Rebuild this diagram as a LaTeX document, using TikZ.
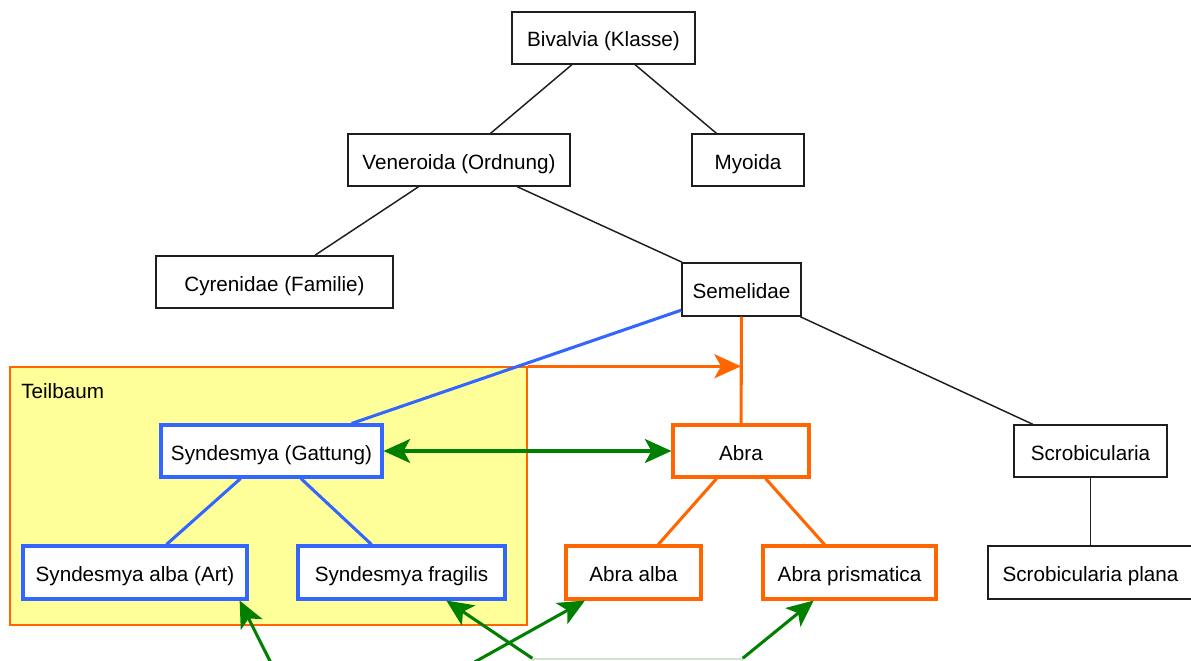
\documentclass[tikz,border=0pt]{standalone}
\usepackage{fontspec}
\setmainfont{Liberation Sans}
\usetikzlibrary{arrows.meta}
\definecolor{cblue}{RGB}{51,102,255}
\definecolor{corange}{RGB}{255,102,0}
\definecolor{cgreen}{RGB}{0,128,0}
\definecolor{cyellow}{RGB}{255,255,153}
\definecolor{cpale}{RGB}{205,228,205}
\definecolor{cline}{RGB}{30,30,30}
\begin{document}
\begin{tikzpicture}[x=0.75pt,y=-0.75pt,
  bx/.style 2 args={draw=cline, fill=white, line width=1.1pt, inner sep=0pt,
    minimum width=#1*0.75pt, minimum height=#2*0.75pt,
    text height=13.5pt, text depth=0pt,
    font=\fontsize{15.5}{18}\selectfont},
  bluebx/.style={draw=cblue, line width=2.3pt},
  orbx/.style={draw=corange, line width=2.3pt},
  blk/.style={draw=cline, line width=1.1pt},
  blu/.style={draw=cblue, line width=2.3pt},
  orl/.style={draw=corange, line width=2.3pt},
  headtip/.style={-{Stealth[length=20pt,width=18pt,inset=5pt]}},
  bothtip/.style={{Stealth[length=20pt,width=18pt,inset=5pt]}-{Stealth[length=20pt,width=18pt,inset=5pt]}},
  gar/.style={draw=cgreen, line width=2.3pt},
]
\useasboundingbox (0,0) rectangle (1191,660);
\clip (0,0) rectangle (1191,660);

% Teilbaum container
\node[draw=corange, fill=cyellow, line width=1.1pt, inner sep=0pt,
  minimum width=517*0.75pt, minimum height=258*0.75pt] (teil) at (268.5,496) {};
\node[anchor=base west, inner sep=0pt, font=\fontsize{15.5}{18}\selectfont] (teillabel) at (21,398) {Teilbaum};

% nodes
\node[bx={183}{52}] (biv) at (603.5,38) {Bivalvia (Klasse)};
\node[bx={222}{52}] (ven) at (459,160) {Veneroida (Ordnung)};
\node[bx={112}{52}] (myo) at (748,160) {Myoida};
\node[bx={237}{52}] (cyr) at (274.5,282) {Cyrenidae (Familie)};
\node[bx={119}{53}] (sem) at (741.5,289.5) {Semelidae};
\node[bx={221}{52}, bluebx] (syn) at (271.5,451) {Syndesmya (Gattung)};
\node[bx={136}{52}, orbx] (abra) at (741,451) {Abra};
\node[bx={153}{52}] (scr) at (1090.5,451) {Scrobicularia};
\node[bx={224}{53}, bluebx] (sart) at (135,572.5) {Syndesmya alba (Art)};
\node[bx={207}{53}, bluebx] (sfrag) at (401.5,572.5) {Syndesmya fragilis};
\node[bx={135}{53}, orbx] (aalba) at (633.5,572.5) {Abra alba};
\node[bx={173}{53}, orbx] (aprism) at (849.5,572.5) {Abra prismatica};
\node[bx={205}{53}] (splana) at (1090.5,572.5) {Scrobicularia plana};
\node[draw=cpale, fill=white, line width=1.1pt, inner sep=0pt,
  minimum width=209*0.75pt, minimum height=152*0.75pt] (lower) at (637.5,735) {};
\coordinate (src) at (315,751);

% black tree edges
\draw[blk] (biv) -- (ven);
\draw[blk] (biv) -- (myo);
\draw[blk] (ven) -- (cyr);
\draw[blk] (ven) -- (sem);
\draw[blk] (sem) -- (scr);
\draw[blk] (scr) -- (splana);

% coloured edges
\draw[blu] (sem) -- (syn);
\draw[blu] (syn) -- (sart);
\draw[blu] (syn) -- (sfrag);
\draw[orl] (sem) -- (abra);
\draw[orl] (abra) -- (aalba);
\draw[orl] (abra) -- (aprism);

% orange arrow from subtree box to edge
\coordinate (hit) at (teil.north east -| abra.north);
\draw[orl, headtip] (teil.north east) -- (hit);

% green arrows
\draw[gar, bothtip] (syn.east) -- (abra.west);
\draw[gar, headtip] (src) -- (sart.-15.3);
\draw[gar, headtip] (src) -- (aalba.-150.4);
\draw[gar, headtip] (lower.north west) -- (sfrag.-32.6);
\draw[gar, headtip] (lower.north east) -- (aprism.-142.5);
\end{tikzpicture}
\end{document}
